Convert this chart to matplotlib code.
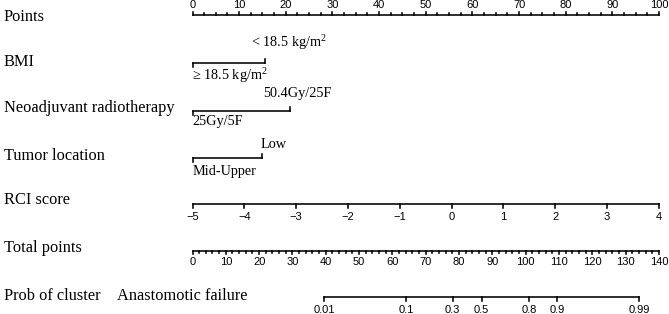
import numpy as np
import matplotlib
matplotlib.use("Agg")
import matplotlib.pyplot as plt

plt.rcParams['mathtext.fontset'] = 'custom'
plt.rcParams['mathtext.rm'] = 'Liberation Serif'
plt.rcParams['mathtext.it'] = 'Liberation Serif:italic'

SERIF = 'Liberation Serif'
SANS = 'Liberation Sans'

# row labels
row_names = ["Points", "BMI", "Neoadjuvant radiotherapy", "Tumor location",
             "RCI score", "Total points", "Prob of cluster"]

# categorical predictors: (low label, high label), points of each level
bmi_levels = ["\u2265 18.5 kg/m$^2$", "< 18.5 kg/m$^2$"]
bmi_points = [0, 15.5]
rt_levels = ["25Gy/5F", "50.4Gy/25F"]
rt_points = [0, 21.0]
loc_levels = ["Mid-Upper", "Low"]
loc_points = [0, 14.8]

# continuous predictor
rci_values = [-5, -4, -3, -2, -1, 0, 1, 2, 3, 4]
rci_range = (-5, 4)

# scales
points_max = 100
total_max = 140
prob_ticks = [0.01, 0.1, 0.3, 0.5, 0.8, 0.9, 0.99]
prob_tick_labels = ["0.01", "0.1", "0.3", "0.5", "0.8", "0.9", "0.99"]
lp_zero_total = 86.8      # total points at linear predictor 0
total_per_logit = 10.28   # total points per unit of linear predictor

fig = plt.figure(figsize=(6.69, 3.14), dpi=100)
ax = fig.add_axes([0, 0, 1, 1])
px_per_pt = (659 - 192.5) / points_max
ax.set_xlim(-192.5 / px_per_pt, (669 - 192.5) / px_per_pt)
ax.set_ylim(314, 0)
ax.axis('off')

lw = 1.15
maj = 3.5
mnr = 2.0
row_y = [15, 63.3, 110.7, 157.7, 204, 250.7, 297.3]
label_y = [17, 62, 108.5, 156, 199.5, 247.5, 295.5]
label_x = -192.5 / px_per_pt + 4 / px_per_pt
fs_row = 11.8
fs_cat = 10.3
fs_tick = 8.0

for name, y in zip(row_names, label_y):
    ax.text(label_x, y, name, family=SERIF, fontsize=fs_row, ha='left', va='center')
ax.text(label_x + 113 / px_per_pt, label_y[6], "Anastomotic failure",
        family=SERIF, fontsize=fs_row, ha='left', va='center')

# Points axis (ticks up, labels above)
y = row_y[0]
ax.plot([0, points_max], [y, y], color='black', lw=lw)
for p in np.arange(0, points_max + 0.1, 2.5):
    L = maj if p % 10 == 0 else mnr
    ax.plot([p, p], [y, y - L], color='black', lw=lw)
for p in range(0, points_max + 1, 10):
    ax.text(p, 5, str(p), family=SANS, fontsize=fs_tick, ha='center', va='center')

# categorical rows
cats = [(bmi_levels, bmi_points, [43, 76], [12.6, 0]),
        (rt_levels, rt_points, [94, 122], [15.1, 0]),
        (loc_levels, loc_points, [145, 172], [14.5, 0])]
for i, (levels, pts, ly, lx) in enumerate(cats):
    y = row_y[i + 1]
    ax.plot([pts[0], pts[1]], [y, y], color='black', lw=lw)
    ax.plot([pts[0], pts[0]], [y, y + 4], color='black', lw=lw)
    ax.plot([pts[1], pts[1]], [y, y - 4], color='black', lw=lw)
    ax.text(lx[1], ly[1], levels[0], family=SERIF, fontsize=fs_cat, ha='left', va='center')
    ax.text(lx[0], ly[0], levels[1], family=SERIF, fontsize=fs_cat, ha='left', va='center')

# RCI score
y = row_y[4]
rci_pts = [(v - rci_range[0]) / (rci_range[1] - rci_range[0]) * points_max for v in rci_values]
ax.plot([rci_pts[0], rci_pts[-1]], [y, y], color='black', lw=lw)
for v, p in zip(rci_values, rci_pts):
    ax.plot([p, p], [y, y + maj], color='black', lw=lw)
    ax.text(p, 216.5, str(v).replace('-', '\u2212'), family=SANS, fontsize=fs_tick,
            ha='center', va='center')

# Total points
y = row_y[5]
scale = points_max / total_max
ax.plot([0, total_max * scale], [y, y], color='black', lw=lw)
for t in range(0, total_max + 1, 2):
    L = maj if t % 10 == 0 else mnr
    ax.plot([t * scale, t * scale], [y, y + L], color='black', lw=lw)
for t in range(0, total_max + 1, 10):
    ax.text(t * scale, 262, str(t), family=SANS, fontsize=fs_tick, ha='center', va='center')

# Probability
y = row_y[6]
prob = np.array(prob_ticks)
prob_pts = (lp_zero_total + total_per_logit * np.log(prob / (1 - prob))) * scale
ax.plot([prob_pts[0], prob_pts[-1]], [y, y], color='black', lw=lw)
for p, lab in zip(prob_pts, prob_tick_labels):
    ax.plot([p, p], [y, y + maj], color='black', lw=lw)
    ax.text(p, 310, lab, family=SANS, fontsize=fs_tick, ha='center', va='center')

fig.savefig("out.png", dpi=100)
